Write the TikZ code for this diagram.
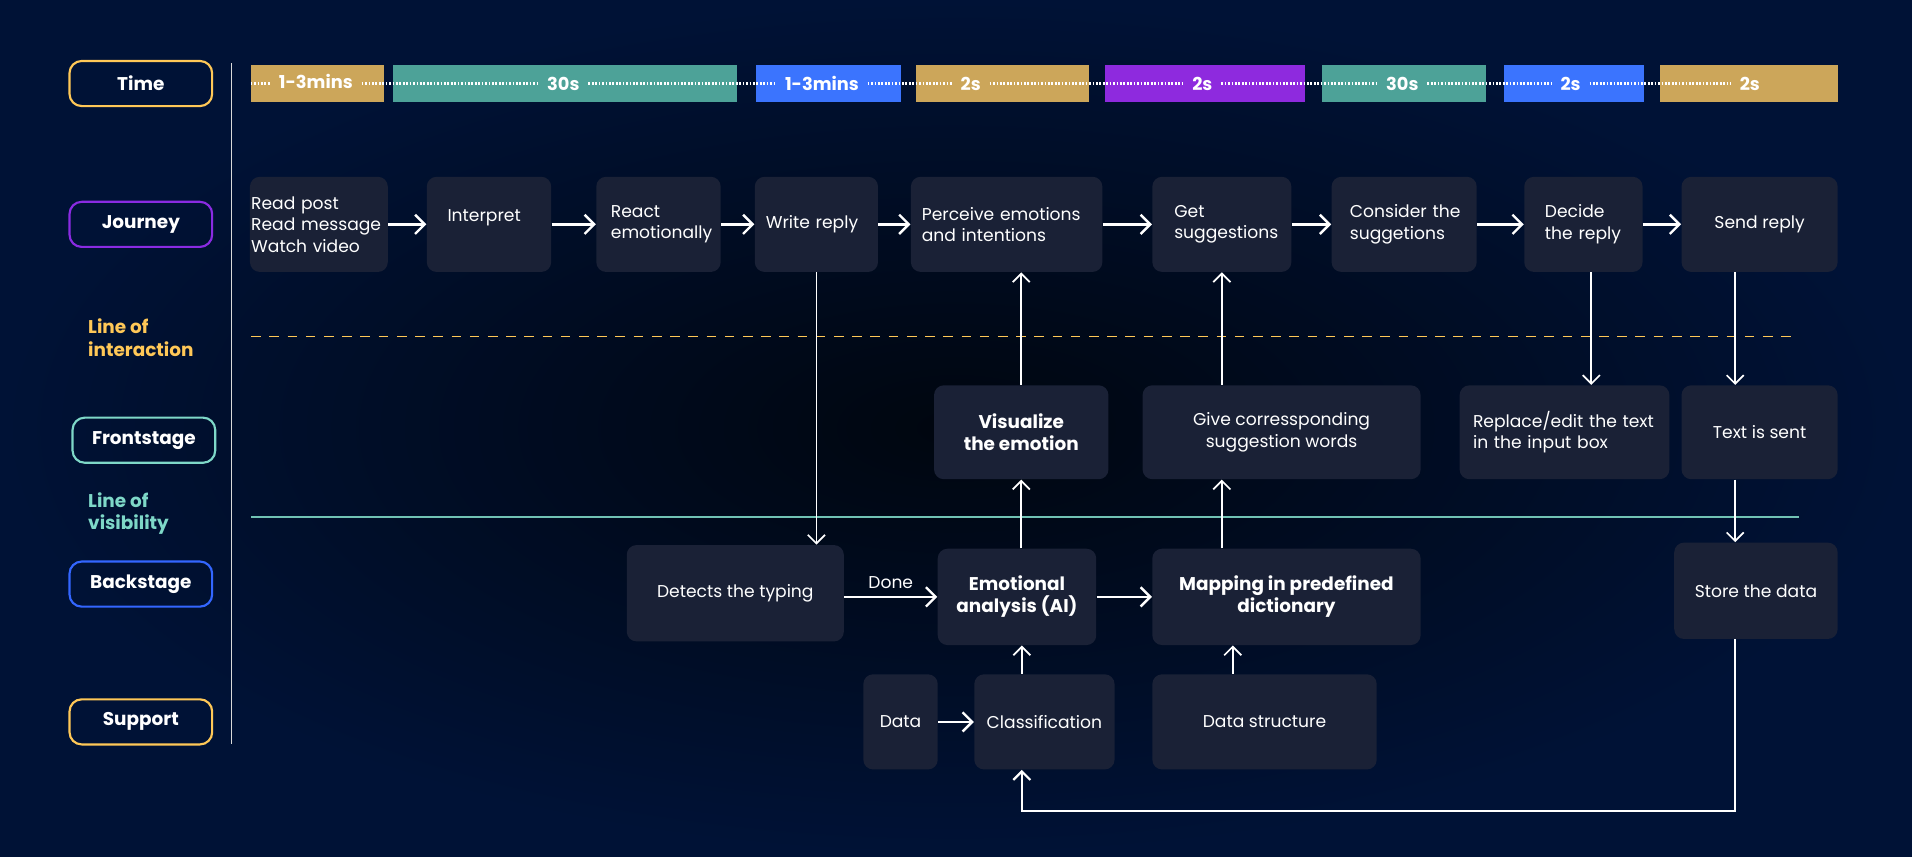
\documentclass[tikz,border=0pt]{standalone}
\usepackage{fontspec}
\setmainfont{Poppins}
\usetikzlibrary{arrows.meta}
\definecolor{bgin}{HTML}{00060F}
\definecolor{bgout}{HTML}{001236}
\definecolor{boxfill}{HTML}{1A2136}
\definecolor{gold}{HTML}{CCA65A}
\definecolor{sea}{HTML}{4DA298}
\definecolor{royal}{HTML}{3B74FE}
\definecolor{violet}{HTML}{8E2ADE}
\definecolor{amber}{HTML}{FFC857}
\definecolor{mint}{HTML}{7ED8C8}
\definecolor{lilac}{HTML}{8A2BE2}
\definecolor{azure}{HTML}{3366FF}
\begin{document}
\begin{tikzpicture}[
  box/.style={shape=rectangle, fill=boxfill, rounded corners=0.16cm, minimum height=1.56cm, inner ysep=0pt, text=white, font=\fontsize{8}{10}\selectfont},
  bold/.style={font=\bfseries\fontsize{8.6}{10.4}\selectfont},
  lane/.style={shape=rectangle, draw=#1, line width=1pt, rounded corners=0.2cm, minimum width=2.34cm, minimum height=0.74cm, text=white, font=\bfseries\fontsize{8.6}{10}\selectfont},
  bar/.style={shape=rectangle, fill=#1, minimum height=0.62cm, inner sep=0pt},
  tlab/.style={text=white, inner xsep=0.14cm, inner ysep=1pt, font=\bfseries\fontsize{8.3}{10}\selectfont},
  dots/.style={draw=white, line width=1.3pt, dash pattern=on 0.8pt off 0.8pt},
  flow/.style={-{Straight Barb[length=4.5pt,width=9pt]}, line width=1.1pt, draw=white},
  link/.style={-{Straight Barb[length=4pt,width=8pt]}, line width=0.8pt, draw=white},
]
\useasboundingbox (0,0) rectangle (31.36,-14.04);
\shade[inner color=bgin, outer color=bgout] (0,0) rectangle (31.36,-14.04);

\node[lane=amber] (lTime) at (2.31,-1.37) {Time};
\node[lane=lilac] (lJourney) at (2.31,-3.68) {Journey};
\node[lane=mint] (lFront) at (2.36,-7.22) {Frontstage};
\node[lane=azure] (lBack) at (2.31,-9.58) {Backstage};
\node[lane=amber] (lSupport) at (2.31,-11.84) {Support};
\node[text=amber, align=left, anchor=west, inner sep=0pt, font=\bfseries\fontsize{8.6}{10.4}\selectfont] (lInter) at (1.44,-5.54) {Line of\\interaction};
\node[text=mint, align=left, anchor=west, inner sep=0pt, font=\bfseries\fontsize{8.6}{10.4}\selectfont] (lVis) at (1.44,-8.42) {Line of\\visibility};
\draw[white!85!black, line width=0.6pt] (3.8,-1.04) -- (3.8,-12.2);

\node[bar=gold, minimum width=2.18cm] (bar1) at (5.21,-1.37) {};
\node[bar=sea, minimum width=5.64cm] (bar2) at (9.26,-1.37) {};
\node[bar=royal, minimum width=2.38cm] (bar3) at (13.59,-1.37) {};
\node[bar=gold, minimum width=2.84cm] (bar4) at (16.44,-1.37) {};
\node[bar=violet, minimum width=3.28cm] (bar5) at (19.76,-1.37) {};
\node[bar=sea, minimum width=2.70cm] (bar6) at (23.03,-1.37) {};
\node[bar=royal, minimum width=2.30cm] (bar7) at (25.81,-1.37) {};
\node[bar=gold, minimum width=2.92cm] (bar8) at (28.68,-1.37) {};
\node[tlab] (t1) at (5.18,-1.33) {1-3mins};
\node[tlab] (t2) at (9.24,-1.37) {30s};
\node[tlab] (t3) at (13.48,-1.37) {1-3mins};
\node[tlab] (t4) at (15.92,-1.37) {2s};
\node[tlab] (t5) at (19.72,-1.37) {2s};
\node[tlab] (t6) at (23.00,-1.37) {30s};
\node[tlab] (t7) at (25.76,-1.37) {2s};
\node[tlab] (t8) at (28.70,-1.37) {2s};
\foreach \a/\b in {bar1.west/t1.west, t1.east/t2.west, t2.east/t3.west, t3.east/t4.west, t4.east/t5.west, t5.east/t6.west, t6.east/t7.west, t7.east/t8.west}
  \draw[dots] (\a |- bar1) -- (\b |- bar1);

\node[box, align=left, text width=2.22cm, inner xsep=0.02cm] (read) at (5.23,-3.68) {\mbox{Read post}\\\mbox{Read message}\\\mbox{Watch video}};
\node[box, align=left, text width=1.36cm, inner xsep=0.34cm, text depth=0.3cm] (interp) at (8.02,-3.68) {Interpret};
\node[box, align=left, text width=1.56cm, inner xsep=0.24cm] (react) at (10.80,-3.68) {\mbox{React}\\\mbox{emotionally}};
\node[box, align=left, text width=1.66cm, inner xsep=0.18cm] (write) at (13.39,-3.68) {\mbox{Write reply}};
\node[box, align=left, text width=2.78cm, inner xsep=0.18cm] (perceive) at (16.51,-3.68) {\mbox{Perceive emotions}\\\mbox{and intentions}};
\node[box, align=left, text width=1.56cm, inner xsep=0.36cm] (getsug) at (20.04,-3.68) {\mbox{Get}\\\mbox{suggestions}};
\node[box, align=left, text width=1.78cm, inner xsep=0.30cm] (consider) at (23.03,-3.68) {\mbox{Consider the}\\\mbox{suggetions}};
\node[box, align=left, text width=1.26cm, inner xsep=0.34cm] (decide) at (25.97,-3.68) {\mbox{Decide}\\\mbox{the reply}};
\node[box, minimum width=2.56cm] (send) at (28.86,-3.68) {Send reply};

\draw[amber, line width=0.8pt, dash pattern=on 4.5pt off 4pt] (4.12,-5.52) -- (29.5,-5.52);
\draw[mint!90!black, line width=0.8pt] (4.12,-8.48) -- (29.5,-8.48);

\node[box, bold, align=center, minimum width=2.86cm, minimum height=1.54cm] (vis) at (16.75,-7.09) {Visualize\\the emotion};
\node[box, align=center, minimum width=4.56cm, minimum height=1.54cm] (give) at (21.02,-7.09) {Give corressponding\\suggestion words};
\node[box, align=left, text width=3.00cm, inner xsep=0.22cm, minimum height=1.54cm] (replace) at (25.66,-7.09) {\mbox{Replace/edit the text}\\\mbox{in the input box}};
\node[box, minimum width=2.56cm, minimum height=1.54cm] (sent) at (28.86,-7.09) {Text is sent};

\node[box, minimum width=3.56cm, minimum height=1.58cm] (detect) at (12.06,-9.73) {Detects the typing};
\node[box, bold, align=center, minimum width=2.60cm, minimum height=1.58cm] (emo) at (16.68,-9.79) {Emotional\\analysis (AI)};
\node[box, bold, align=center, minimum width=4.40cm, minimum height=1.58cm] (map) at (21.10,-9.79) {Mapping in predefined\\dictionary};
\node[box, minimum width=2.68cm, minimum height=1.58cm] (store) at (28.80,-9.69) {Store the data};

\node[box, minimum width=1.22cm] (data) at (14.77,-11.84) {Data};
\node[box, minimum width=2.30cm] (class) at (17.13,-11.84) {Classification};
\node[box, minimum width=3.68cm] (dstruct) at (20.74,-11.84) {Data structure};

\coordinate (drop) at (28.46,-13.3);
\coordinate (loop) at (16.76,-13.3);
\coordinate (dsx) at (20.22,-11);

\path [flow] (read) edge (interp);
\path [flow] (interp) edge (react);
\path [flow] (react) edge (write);
\path [flow] (write) edge (perceive);
\path [flow] (perceive) edge (getsug);
\path [flow] (getsug) edge (consider);
\path [flow] (consider) edge (decide);
\path [flow] (decide) edge (send);
\path [flow] (emo) edge (map);
\path [flow] (data) edge (class);

\draw [link] (write.south) -- (write.south |- detect.north);
\draw [flow] (detect.east |- emo) -- node[above, text=white, font=\fontsize{8}{10}\selectfont] {Done} (emo.west);
\draw [link] (emo.north -| vis.south) -- (vis.south);
\draw [link] (vis.north) -- (perceive.south -| vis.north);
\draw [link] (map.north -| getsug.south) -- (give.south -| getsug.south);
\draw [link] (give.north -| getsug.south) -- (getsug.south);
\draw [link] ([xshift=0.13cm]decide.south) -- ([xshift=0.13cm]decide.south |- replace.north);
\draw [link] (send.south -| drop) -- (sent.north -| drop);
\draw [link] (sent.south -| drop) -- (store.north -| drop);
\draw [link, line width=1pt] (store.south -| drop) -- (drop) -- (loop) -- (class.south -| loop);
\draw [link] (class.north -| loop) -- (emo.south -| loop);
\draw [link] (dstruct.north -| dsx) -- (map.south -| dsx);
\end{tikzpicture}
\end{document}
